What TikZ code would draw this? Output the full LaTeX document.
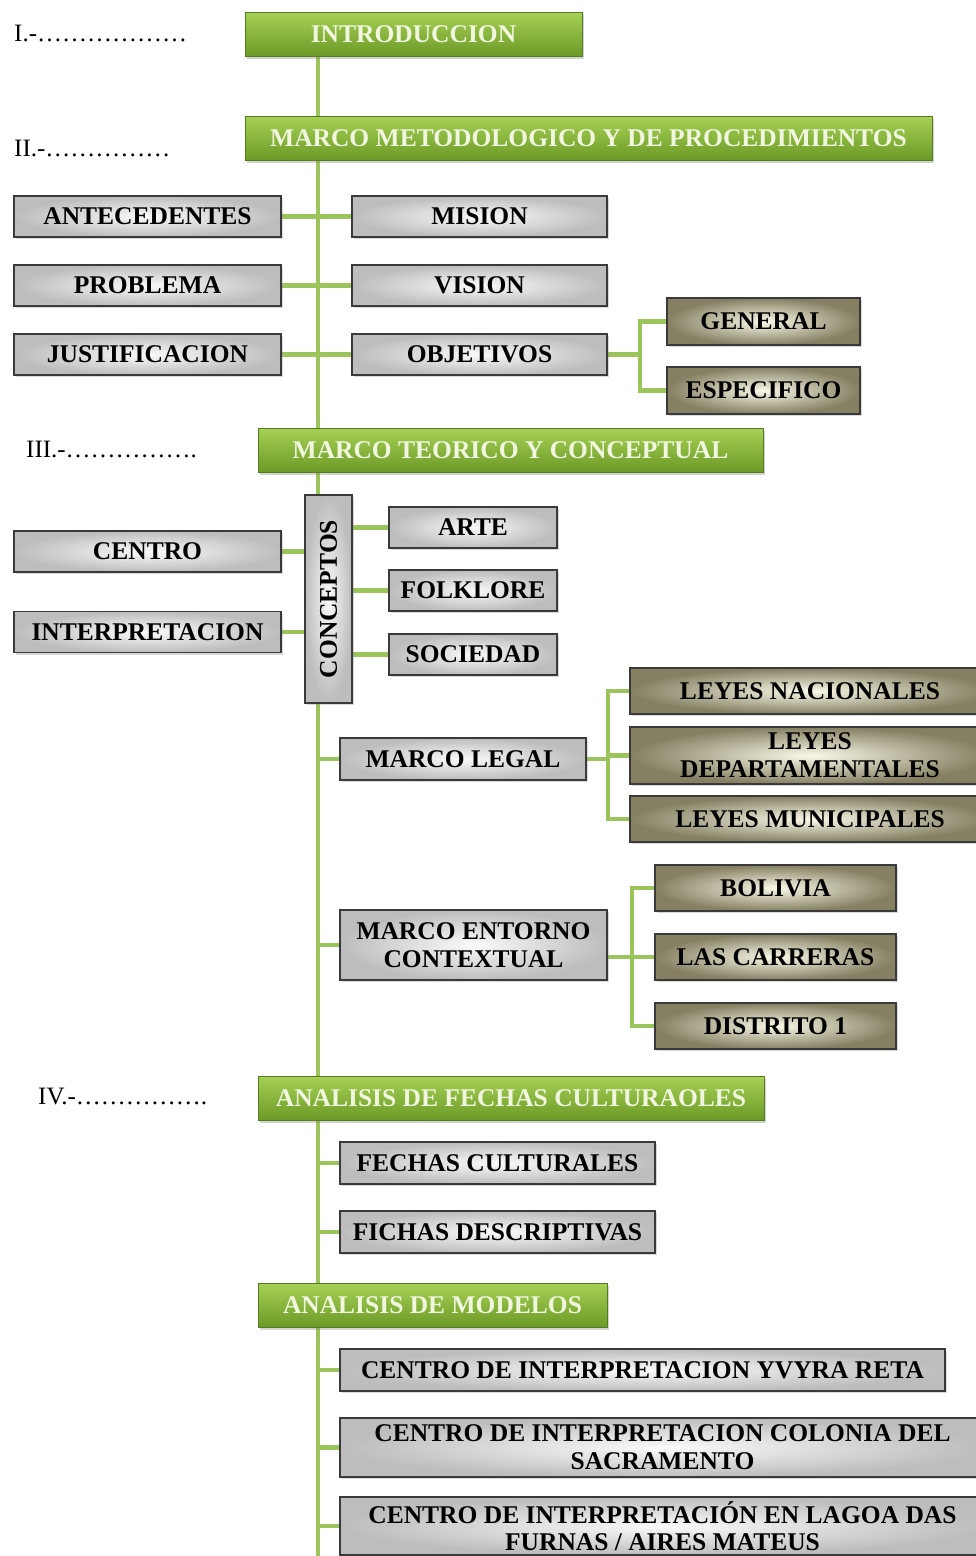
\documentclass[tikz,border=0pt]{standalone}
\usepackage{fontspec}
\setmainfont{Liberation Serif}
\usepackage{tikz}
\usetikzlibrary{shadows,backgrounds}
\definecolor{hdtop}{HTML}{A6D155}
\definecolor{hdbot}{HTML}{6C9A28}
\definecolor{hdtext}{HTML}{F1F6DE}
\definecolor{lnk}{HTML}{9CC45C}
\definecolor{boxline}{HTML}{3A3A3A}
\definecolor{olvout}{HTML}{858062}
\definecolor{olvin}{HTML}{FAF8E8}

\begin{document}
\begin{tikzpicture}[x=1pt, y=-1pt,
  head/.style={draw=hdbot!80!black, line width=.8pt, top color=hdtop, bottom color=hdbot,
    text=hdtext, font=\fontsize{25.5}{27}\selectfont\bfseries, inner sep=2pt,
    drop shadow={shadow xshift=2pt, shadow yshift=-3pt, opacity=.35}},
  greybox/.style={draw=boxline, line width=1.2pt, inner color=gray!4, outer color=gray!52,
    font=\fontsize{25.5}{28}\selectfont\bfseries, align=center, inner sep=2pt,
    drop shadow={shadow xshift=2pt, shadow yshift=-2pt, opacity=.3}},
  olivebox/.style={greybox, inner color=olvin, outer color=olvout},
  link/.style={lnk, line width=4.5pt},
  roman/.style={anchor=west, inner sep=0pt, font=\fontsize{25}{27}\selectfont}]
\useasboundingbox (0,0) rectangle (976,1556);

\node[roman] (r1) at (14,33) {I.-………………};
\node[roman] (r2) at (14,148) {II.-……………};
\node[roman] (r3) at (26,449) {III.-…………….};
\node[roman] (r4) at (38,1096) {IV.-…………….};

\node[head, minimum width=337, minimum height=44] (intro) at (413.5,34) {INTRODUCCION};
\node[head, minimum width=687, minimum height=44] (metod) at (588.5,138) {MARCO METODOLOGICO Y DE PROCEDIMIENTOS};
\node[head, minimum width=505, minimum height=44] (teorico) at (510.5,450) {MARCO TEORICO Y CONCEPTUAL};
\node[head, minimum width=506, minimum height=44] (fechas) at (511,1098) {ANALISIS DE FECHAS CULTURAOLES};
\node[head, minimum width=349, minimum height=44] (modelos) at (432.5,1305) {ANALISIS DE MODELOS};

\node[greybox, minimum width=267, minimum height=41] (antec) at (147.5,216.5) {ANTECEDENTES};
\node[greybox, minimum width=267, minimum height=41] (problema) at (147.5,285.5) {PROBLEMA};
\node[greybox, minimum width=267, minimum height=41] (justif) at (147.5,354.5) {JUSTIFICACION};
\node[greybox, minimum width=255, minimum height=41] (mision) at (479.5,216.5) {MISION};
\node[greybox, minimum width=255, minimum height=41] (vision) at (479.5,285.5) {VISION};
\node[greybox, minimum width=255, minimum height=41] (objetivos) at (479.5,354.5) {OBJETIVOS};
\node[olivebox, minimum width=193, minimum height=47] (general) at (763.5,321.5) {GENERAL};
\node[olivebox, minimum width=193, minimum height=47] (especif) at (763.5,390.5) {ESPECIFICO};

\node[greybox, minimum width=267, minimum height=41] (centro) at (147.5,551.5) {CENTRO};
\node[greybox, minimum width=267, minimum height=41] (interp) at (147.5,632) {INTERPRETACION};
\node[greybox, rotate=90, minimum width=208, minimum height=47] (conceptos) at (328.5,599) {CONCEPTOS};
\node[greybox, minimum width=168, minimum height=41] (arte) at (473,527.5) {ARTE};
\node[greybox, minimum width=168, minimum height=41] (folklore) at (473,590.5) {FOLKLORE};
\node[greybox, minimum width=168, minimum height=41] (sociedad) at (473,654.5) {SOCIEDAD};

\node[greybox, minimum width=246, minimum height=42] (legal) at (463,759) {MARCO LEGAL};
\node[olivebox, minimum width=360, minimum height=46] (nacion) at (810,691) {LEYES NACIONALES};
\node[olivebox, minimum width=360, minimum height=57] (depto) at (810,755.5) {LEYES\\DEPARTAMENTALES};
\node[olivebox, minimum width=360, minimum height=46] (munic) at (810,819) {LEYES MUNICIPALES};

\node[greybox, minimum width=267, minimum height=70] (entorno) at (473.5,945) {MARCO ENTORNO\\CONTEXTUAL};
\node[olivebox, minimum width=241, minimum height=46] (bolivia) at (775.5,888) {BOLIVIA};
\node[olivebox, minimum width=241, minimum height=46] (carreras) at (775.5,957) {LAS CARRERAS};
\node[olivebox, minimum width=241, minimum height=46] (distrito) at (775.5,1026) {DISTRITO 1};

\node[greybox, minimum width=315, minimum height=42] (fcult) at (497.5,1163) {FECHAS CULTURALES};
\node[greybox, minimum width=315, minimum height=42] (fdesc) at (497.5,1232) {FICHAS DESCRIPTIVAS};

\node[greybox, minimum width=605, minimum height=42] (yvyra) at (642.5,1370) {CENTRO DE INTERPRETACION YVYRA RETA};
\node[greybox, minimum width=645, minimum height=59] (colonia) at (662.5,1447.5) {CENTRO DE INTERPRETACION COLONIA DEL\\SACRAMENTO};
\node[greybox, minimum width=645, minimum height=58, font=\fontsize{25.5}{27}\selectfont\bfseries] (lagoa) at (662.5,1526) {CENTRO DE INTERPRETACIÓN EN LAGOA DAS\\FURNAS / AIRES MATEUS};

\coordinate (bottom) at (318,1556);
\coordinate (jobj) at (640,354.5);
\coordinate (jleg) at (608,759);
\coordinate (jent) at (632,957);

\begin{scope}[on background layer]
\draw[link] (318,56) -- (bottom);
\draw[link] (antec.east) -- (mision.west);
\draw[link] (problema.east) -- (vision.west);
\draw[link] (justif.east) -- (objetivos.west);
\draw[link] (objetivos.east) -- (jobj);
\draw[link] (general.west) -| (jobj) |- (especif.west);
\draw[link] (centro.east) -- (centro.east -| conceptos.north);
\draw[link] (interp.east) -- (interp.east -| conceptos.north);
\draw[link] (arte.west) -- (arte.west -| conceptos.south);
\draw[link] (folklore.west) -- (folklore.west -| conceptos.south);
\draw[link] (sociedad.west) -- (sociedad.west -| conceptos.south);
\draw[link] (legal.west) -- (legal.west -| bottom);
\draw[link] (legal.east) -- (jleg);
\draw[link] (nacion.west) -| (jleg) |- (munic.west);
\draw[link] (depto.west) -- (depto.west -| jleg);
\draw[link] (entorno.west) -- (entorno.west -| bottom);
\draw[link] (entorno.east |- jent) -- (jent);
\draw[link] (bolivia.west) -| (jent) |- (distrito.west);
\draw[link] (carreras.west) -- (jent);
\draw[link] (fcult.west) -- (fcult.west -| bottom);
\draw[link] (fdesc.west) -- (fdesc.west -| bottom);
\draw[link] (yvyra.west) -- (yvyra.west -| bottom);
\draw[link] (colonia.west) -- (colonia.west -| bottom);
\draw[link] (lagoa.west) -- (lagoa.west -| bottom);
\end{scope}
\end{tikzpicture}
\end{document}
